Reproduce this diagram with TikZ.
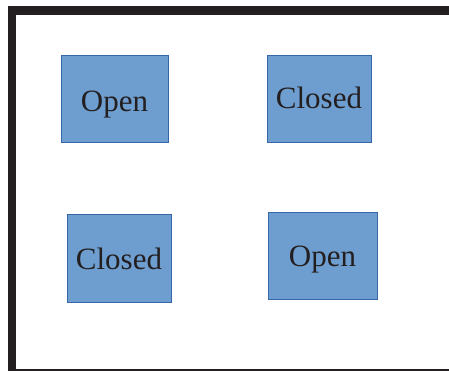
\documentclass[tikz,border=0pt]{standalone}
\usepackage{fontspec}
\setmainfont{Liberation Serif}
\definecolor{boxfill}{HTML}{6E9ED0}
\definecolor{boxline}{HTML}{3566A8}
\definecolor{framec}{HTML}{231F20}
\begin{document}
\begin{tikzpicture}[x=1pt,y=-1pt,
  box/.style={draw=boxline, line width=0.8pt, fill=boxfill, inner sep=0pt,
    text=framec, font=\fontsize{31}{31}\selectfont}]
\useasboundingbox (0,0) rectangle (449,371);
\fill[framec] (8,6) rectangle (449,15);
\fill[framec] (8,6) rectangle (16,371);
\fill[framec] (8,368.5) rectangle (449,371);
\node[box, minimum width=107pt, minimum height=87pt, text height=30pt, text depth=3pt] (b1) at (114.5,98.5) {Open};
\node[box, minimum width=104pt, minimum height=87pt, text height=24pt, text depth=3pt] (b2) at (319,98.5) {Closed};
\node[box, minimum width=104pt, minimum height=88pt, text height=25pt, text depth=3pt] (b3) at (119,258) {Closed};
\node[box, minimum width=109pt, minimum height=87pt, text height=25.4pt, text depth=3pt] (b4) at (322.5,255.5) {Open};
\end{tikzpicture}
\end{document}
